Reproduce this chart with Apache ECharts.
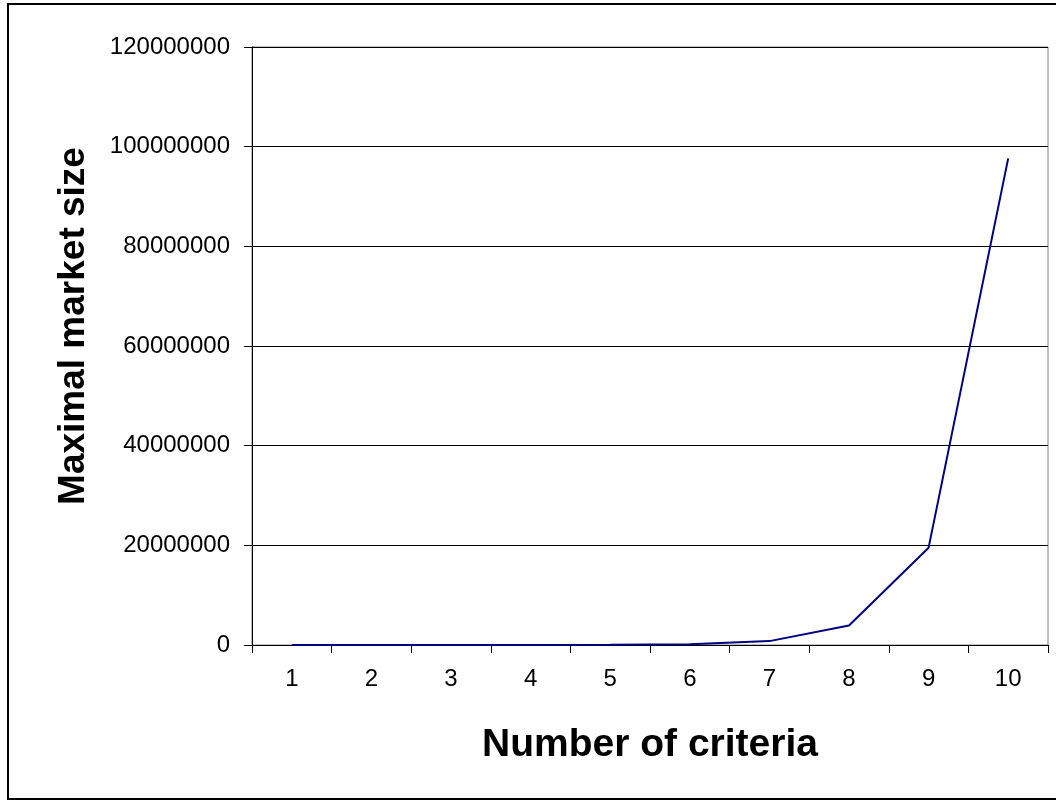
<!DOCTYPE html>
<html>
<head>
<meta charset="utf-8">
<script src="https://cdn.jsdelivr.net/npm/echarts@6/dist/echarts.min.js"></script>
<style>
  html, body { margin: 0; padding: 0; background: #fff; }
  #chart { width: 1056px; height: 800px; }
</style>
</head>
<body>
<div id="chart"></div>
<script>
// data
var criteria = ["1", "2", "3", "4", "5", "6", "7", "8", "9", "10"];
var marketSize = [50, 250, 1250, 6250, 31250, 156250, 781250, 3906250, 19531250, 97656250];
var yTicks = { min: 0, max: 120000000, interval: 20000000 };

var myChart = echarts.init(document.getElementById("chart"));

var option = {
  animation: false,
  backgroundColor: "#fff",
  textStyle: { fontFamily: "Liberation Sans, Arial, sans-serif" },
  graphic: [
    {
      type: "rect",
      shape: { x: 8, y: 4, width: 1060, height: 795 },
      style: { fill: "none", stroke: "#000", lineWidth: 2 },
      silent: true
    }
  ],
  grid: {
    left: 252,
    right: 8,
    top: 47,
    bottom: 155,
    show: true,
    borderColor: "#808080",
    borderWidth: 1
  },
  xAxis: {
    type: "category",
    data: criteria,
    boundaryGap: true,
    name: "Number of criteria",
    nameLocation: "middle",
    nameGap: 81,
    nameTextStyle: { fontSize: 39, fontWeight: "bold", color: "#000" },
    axisLine: { lineStyle: { color: "#000", width: 1 } },
    axisTick: { show: true, length: 8, lineStyle: { color: "#000" } },
    axisLabel: { fontSize: 24, color: "#000", margin: 22 },
    splitLine: { show: false }
  },
  yAxis: {
    type: "value",
    min: yTicks.min,
    max: yTicks.max,
    interval: yTicks.interval,
    name: "Maximal market size",
    nameLocation: "middle",
    nameGap: 160,
    nameRotate: 90,
    nameTextStyle: { fontSize: 37, fontWeight: "bold", color: "#000", padding: [0, 0, 0, 40] },
    axisLine: { show: true, lineStyle: { color: "#000", width: 1 } },
    axisTick: { show: true, length: 8, lineStyle: { color: "#000" } },
    axisLabel: {
      fontSize: 24,
      color: "#000",
      margin: 22,
      formatter: function (v) { return String(v); }
    },
    splitLine: { show: true, lineStyle: { color: "#000", width: 1 } }
  },
  series: [
    {
      type: "line",
      data: marketSize,
      symbol: "none",
      lineStyle: { color: "#000080", width: 2 }
    }
  ]
};

myChart.setOption(option);
</script>
</body>
</html>
